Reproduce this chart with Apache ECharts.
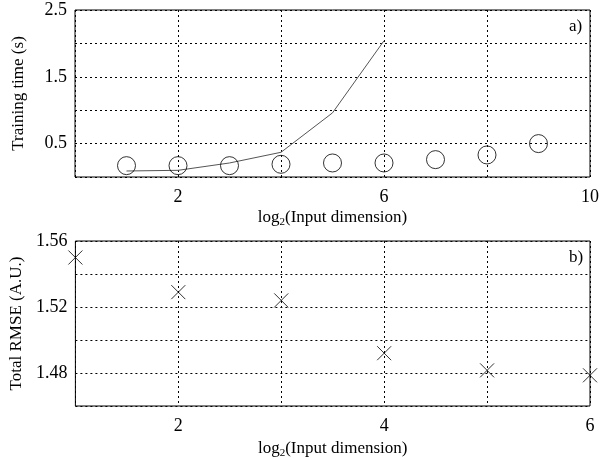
<!DOCTYPE html>
<html><head><meta charset="utf-8">
<script src="https://cdn.jsdelivr.net/npm/echarts@6/dist/echarts.min.js"></script>
<style>html,body{margin:0;padding:0;background:#fff}#c{width:602px;height:460px}</style>
</head><body><div id="c"></div>
<script>
// Panel a) training time
const dimA = [1, 2, 3, 4, 5, 6, 7, 8, 9];
const timeCircles = [0.17, 0.17, 0.17, 0.19, 0.21, 0.21, 0.26, 0.33, 0.50];
const dimLine = [1, 2, 3, 4, 5, 6];
const timeLine = [0.09, 0.10, 0.21, 0.37, 0.96, 2.04];
const xLabelsA = [2, 6, 10];
const yLabelsA = [0.5, 1.5, 2.5];
// Panel b) RMSE
const dimB = [1, 2, 3, 4, 5, 6];
const rmse = [1.550, 1.529, 1.524, 1.492, 1.4816, 1.4786];
const xLabelsB = [2, 4, 6];
const yLabelsB = ['1.48', '1.52', '1.56'];

const FONT = 'Liberation Serif';
const chart = echarts.init(document.getElementById('c'), null, {renderer: 'canvas'});
const gridLine = {show: true, lineStyle: {color: '#000', type: [2, 3], width: 1}};
const axLabel = {color: '#000', fontFamily: FONT, fontSize: 18};
const nameStyleX = {
  color: '#000', fontFamily: FONT, fontSize: 17,
  rich: {sub: {fontFamily: FONT, fontSize: 11, verticalAlign: 'bottom', padding: [9, 0, 0, 0], color: '#000'},
         n: {fontFamily: FONT, fontSize: 17, color: '#000'}}
};
const xName = '{n|log}{sub|2}{n|(Input dimension)}';

chart.setOption({
  animation: false,
  backgroundColor: '#fff',
  grid: [
    {left: 75, top: 10, width: 515, height: 167, show: true, borderColor: '#000', borderWidth: 1},
    {left: 75, top: 241, width: 515, height: 167, show: true, borderColor: '#000', borderWidth: 1}
  ],
  xAxis: [
    {gridIndex: 0, type: 'value', min: 0, max: 10, interval: 2,
     axisLine: {show: false}, axisTick: {show: false}, splitLine: gridLine,
     axisLabel: Object.assign({}, axLabel, {margin: 11, formatter: v => xLabelsA.includes(v) ? String(v) : ''}),
     name: xName, nameLocation: 'middle', nameGap: 31, nameTextStyle: nameStyleX},
    {gridIndex: 1, type: 'value', min: 1, max: 6, interval: 1,
     axisLine: {show: false}, axisTick: {show: false}, splitLine: gridLine,
     axisLabel: Object.assign({}, axLabel, {margin: 11, formatter: v => xLabelsB.includes(v) ? String(v) : ''}),
     name: xName, nameLocation: 'middle', nameGap: 33, nameTextStyle: nameStyleX}
  ],
  yAxis: [
    {gridIndex: 0, type: 'value', min: 0, max: 2.5, interval: 0.5,
     axisLine: {show: false}, axisTick: {show: false}, splitLine: gridLine,
     axisLabel: Object.assign({}, axLabel, {margin: 8, formatter: v => yLabelsA.some(l => Math.abs(l - v) < 1e-6) ? v.toFixed(1) : ''}),
     name: 'Training time (s)', nameLocation: 'middle', nameGap: 48,
     nameTextStyle: {color: '#000', fontFamily: FONT, fontSize: 17}},
    {gridIndex: 1, type: 'value', min: 1.46, max: 1.56, interval: 0.02,
     axisLine: {show: false}, axisTick: {show: false}, splitLine: gridLine,
     axisLabel: Object.assign({}, axLabel, {margin: 8, formatter: v => yLabelsB.includes(v.toFixed(2)) ? v.toFixed(2) : ''}),
     name: 'Total RMSE (A.U.)', nameLocation: 'middle', nameGap: 48,
     nameTextStyle: {color: '#000', fontFamily: FONT, fontSize: 17}}
  ],
  series: [
    {type: 'line', xAxisIndex: 0, yAxisIndex: 0, data: dimLine.map((x, i) => [x, timeLine[i]]),
     showSymbol: false, symbol: 'none', lineStyle: {color: '#555', width: 1}, z: 3},
    {type: 'scatter', xAxisIndex: 0, yAxisIndex: 0, data: dimA.map((x, i) => [x, timeCircles[i]]),
     symbol: 'circle', symbolSize: 18,
     itemStyle: {color: 'rgba(0,0,0,0)', borderColor: '#000', borderWidth: 1}, z: 4},
    {type: 'scatter', xAxisIndex: 1, yAxisIndex: 1, data: dimB.map((x, i) => [x, rmse[i]]),
     symbol: 'path://M0,0L10,10M10,0L0,10', symbolSize: 14,
     itemStyle: {color: 'rgba(0,0,0,0)', borderColor: '#000', borderWidth: 1}, z: 4}
  ],
  graphic: [
    {type: 'text', left: 569, top: 18, style: {text: 'a)', font: '17px "Liberation Serif"', fill: '#000'}},
    {type: 'text', left: 569, top: 249, style: {text: 'b)', font: '17px "Liberation Serif"', fill: '#000'}}
  ]
});
</script></body></html>
